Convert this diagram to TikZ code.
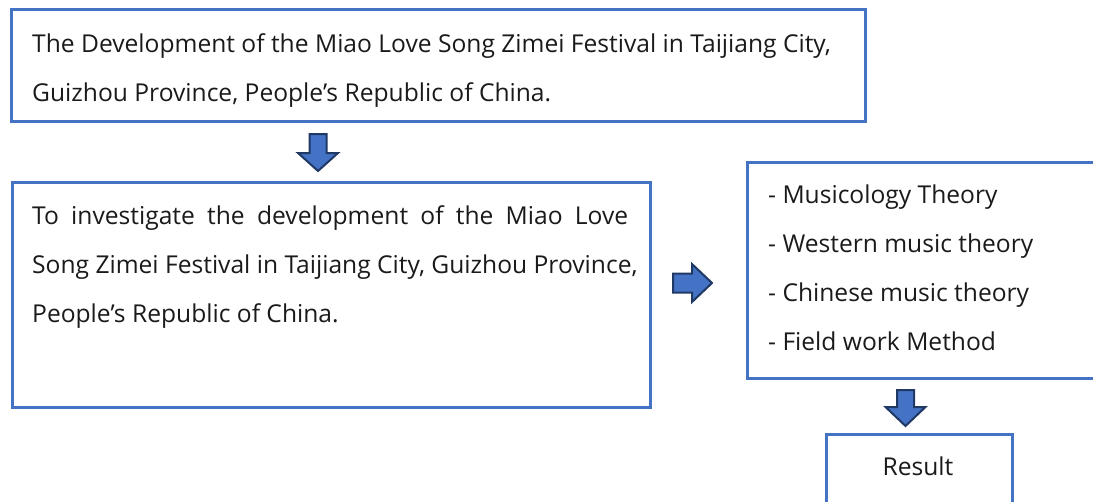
\documentclass[tikz,border=0pt]{standalone}
\usepackage{fontspec}
\setmainfont{Open Sans}
\definecolor{boxblue}{HTML}{4472C4}
\definecolor{arrowedge}{HTML}{203864}
\definecolor{ink}{HTML}{1A1A1A}
\begin{document}
\begin{tikzpicture}[x=1pt,y=-1pt,
  box/.style={draw=boxblue, line width=2.5pt, inner sep=0pt, anchor=north west},
  txt/.style={anchor=base west, inner sep=0pt, font=\fontsize{24.6}{28}\selectfont, text=ink},
  blockarrow/.style={fill=boxblue, draw=arrowedge, line width=2pt, line join=miter}]
\useasboundingbox (0,0) rectangle (1093,501);
\clip (0,0) rectangle (1093,501);
% boxes
\node[box, minimum width=854pt, minimum height=112pt] (topbox) at (10,8) {};
\node[box, minimum width=638pt, minimum height=225pt] (aimbox) at (11,181) {};
\node[box, minimum width=360pt, minimum height=216pt] (theorybox) at (746,161) {};
\node[box, minimum width=186pt, minimum height=100pt] (resultbox) at (825,433) {};
% texts
\node[txt] (t1) at (32,52) {The Development of the Miao Love Song Zimei Festival in Taijiang City,};
\node[txt] (t2) at (32,101) {Guizhou Province, People’s Republic of China.};
\node[txt] (a1) at (32,224) {\makebox[596pt][s]{To investigate the development of the Miao Love}};
\node[txt] (a2) at (32,273) {Song Zimei Festival in Taijiang City, Guizhou Province,};
\node[txt] (a3) at (32,322) {People’s Republic of China.};
\node[txt] (r1) at (768,203) {- Musicology Theory};
\node[txt] (r2) at (768,252) {- Western music theory};
\node[txt] (r3) at (768,301) {- Chinese music theory};
\node[txt] (r4) at (768,350) {- Field work Method};
\node[txt, anchor=base] (res) at (918,475) {Result};
% block arrows
\draw[blockarrow] (309.5,134) -- (326.5,134) -- (326.5,153) -- (338,153) -- (318,171) -- (298,153) -- (309.5,153) -- cycle;
\draw[blockarrow] (673,273.5) -- (692,273.5) -- (692,264) -- (712,283) -- (692,302) -- (692,292.5) -- (673,292.5) -- cycle;
\draw[blockarrow] (897,390) -- (914,390) -- (914,407) -- (925.5,407) -- (905.5,426) -- (885.5,407) -- (897,407) -- cycle;
\end{tikzpicture}
\end{document}
